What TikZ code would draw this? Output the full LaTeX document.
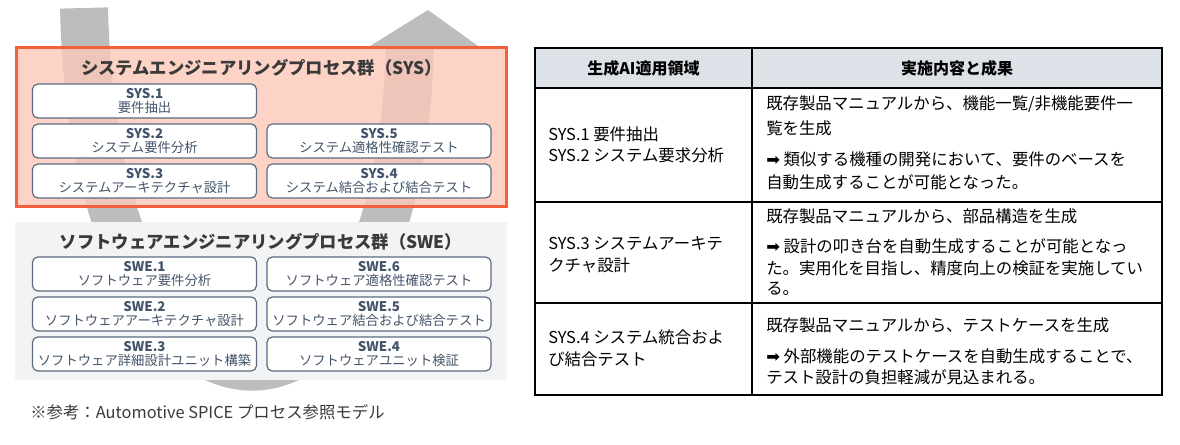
\documentclass[tikz,border=0pt]{standalone}
\usepackage{fontspec}
\setmainfont{Noto Sans CJK JP}
\newfontfamily\dv{DejaVu Sans}
\definecolor{arr}{HTML}{BDBDBD}
\definecolor{sysfill}{HTML}{FCC8B8}
\definecolor{sysline}{HTML}{F2603C}
\definecolor{boxline}{HTML}{5C6B80}
\definecolor{boxtxt}{HTML}{44546A}
\definecolor{ttl}{HTML}{3A3A3A}
\definecolor{swefill}{HTML}{F2F3F5}
\definecolor{hdr}{HTML}{DDE1E8}
\begin{document}
\begin{tikzpicture}[x=0.75pt,y=-0.75pt,
  pbox/.style={draw=boxline,line width=0.9pt,fill=white,rounded corners=4pt,minimum width=168pt,minimum height=25.5pt,inner sep=0pt,align=center,text=boxtxt,font=\fontsize{10}{10.8}\selectfont},
  gtitle/.style={font=\fontsize{13}{14}\selectfont\bfseries,text=ttl},
  tt/.style={anchor=west,inner sep=0pt,font=\fontsize{12.3}{14}\selectfont,text=black},
  th/.style={inner sep=0pt,font=\fontsize{12}{14}\selectfont\bfseries}]
\useasboundingbox (0,0) rectangle (1180,445);
% V arrow
\draw[arr,line width=36pt] (84,8) .. controls (95,480) and (400,480) .. (410,44);
\fill[arr] (370,46) -- (478,46) -- (428,10) -- cycle;
% SYS group
\node[draw=sysline,line width=2.2pt,fill=sysfill,fill opacity=0.8,minimum width=368pt,minimum height=119pt,inner sep=0pt] (sysg) at (261.5,127) {};
\node[gtitle] (syst) at (261.5,68) {システムエンジニアリングプロセス群（SYS）};
\node[pbox] (s1) at (144.5,101) {\textbf{SYS.1}\\要件抽出};
\node[pbox] (s2) at (144.5,141) {\textbf{SYS.2}\\システム要件分析};
\node[pbox] (s3) at (144.5,181) {\textbf{SYS.3}\\システムアーキテクチャ設計};
\node[pbox] (s5) at (379,141) {\textbf{SYS.5}\\システム適格性確認テスト};
\node[pbox] (s4) at (379,181) {\textbf{SYS.4}\\システム結合および結合テスト};
% SWE group
\node[fill=swefill,minimum width=369pt,minimum height=118.5pt,inner sep=0pt] (sweg) at (261,301) {};
\node[gtitle] (swet) at (261,242) {ソフトウェアエンジニアリングプロセス群（SWE）};
\node[pbox] (w1) at (144.5,274) {\textbf{SWE.1}\\ソフトウェア要件分析};
\node[pbox] (w2) at (144.5,314) {\textbf{SWE.2}\\ソフトウェアアーキテクチャ設計};
\node[pbox] (w3) at (144.5,354) {\textbf{SWE.3}\\ソフトウェア詳細設計ユニット構築};
\node[pbox] (w6) at (379,274) {\textbf{SWE.6}\\ソフトウェア適格性確認テスト};
\node[pbox] (w5) at (379,314) {\textbf{SWE.5}\\ソフトウェア結合および結合テスト};
\node[pbox] (w4) at (379,354) {\textbf{SWE.4}\\ソフトウェアユニット検証};
\node[tt,font=\fontsize{12.3}{14}\selectfont,text=ttl] (note) at (30,412) {※参考：Automotive SPICE プロセス参照モデル};
% table
\fill[hdr] (535,48) rectangle (1162,88);
\draw[line width=0.8pt] (535,88) -- (1162,88) (535,202) -- (1162,202) (535,303) -- (1162,303) (752,48) -- (752,395);
\draw[line width=1.2pt] (535,48) rectangle (1162,395);
\node[th] (h1) at (643.5,68) {生成AI適用領域};
\node[th] (h2) at (957,68) {実施内容と成果};
\node[tt] (l1a) at (548,134) {SYS.1 要件抽出};
\node[tt] (l1b) at (548,155) {SYS.2 システム要求分析};
\node[tt] (r1a) at (766,104) {既存製品マニュアルから、機能一覧/非機能要件一};
\node[tt] (r1b) at (766,128) {覧を生成};
\node[tt] (r1c) at (766,159) {{\dv ➡} 類似する機種の開発において、要件のベースを};
\node[tt] (r1d) at (766,182) {自動生成することが可能となった。};
\node[tt] (l2a) at (548,243) {SYS.3 システムアーキテ};
\node[tt] (l2b) at (548,265) {クチャ設計};
\node[tt] (r2a) at (766,216) {既存製品マニュアルから、部品構造を生成};
\node[tt] (r2b) at (766,246) {{\dv ➡} 設計の叩き台を自動生成することが可能となっ};
\node[tt] (r2c) at (766,268) {た。実用化を目指し、精度向上の検証を実施してい};
\node[tt] (r2d) at (766,289) {る。};
\node[tt] (l3a) at (548,337) {SYS.4 システム統合およ};
\node[tt] (l3b) at (548,359) {び結合テスト};
\node[tt] (r3a) at (766,325) {既存製品マニュアルから、テストケースを生成};
\node[tt] (r3b) at (766,356) {{\dv ➡} 外部機能のテストケースを自動生成することで、};
\node[tt] (r3c) at (766,377) {テスト設計の負担軽減が見込まれる。};
\end{tikzpicture}
\end{document}
